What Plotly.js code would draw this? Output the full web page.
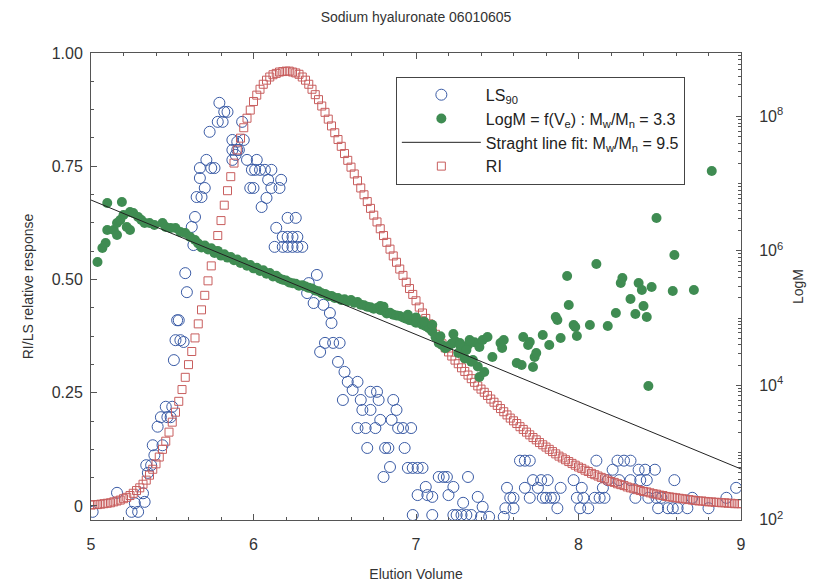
<!DOCTYPE html>
<html>
<head>
<meta charset="utf-8">
<script src="https://cdn.plot.ly/plotly-3.0.1.min.js"></script>
<style>html,body{margin:0;padding:0;background:#fff;}#chart{width:818px;height:584px;}</style>
</head>
<body>
<div id="chart"></div>
<script>
// ---------- data ----------
// LS90 (open blue circles), relative response
const LS_x = [5.01,5.16,5.25,5.29,5.27,5.33,5.32,5.35,5.34,5.37,5.39,5.38,5.44,5.41,5.43,5.46,5.47,5.49,5.50,5.51,
5.52,5.55,5.57,5.53,5.54,5.59,5.58,5.63,5.62,5.64,5.65,5.68,5.70,5.67,5.67,5.71,5.74,5.76,5.73,5.78,
5.81,5.79,5.82,5.84,5.87,5.90,5.93,5.94,5.87,5.89,5.90,5.91,5.87,5.96,6.02,5.99,6.01,6.04,6.07,6.11,
6.09,6.17,6.11,6.16,5.98,6.00,6.08,6.05,6.21,6.26,6.14,6.18,6.21,6.24,6.27,6.13,6.18,6.21,6.24,6.27,6.30,
6.39,6.34,6.33,6.37,6.43,6.47,6.48,6.44,6.49,6.53,6.41,6.52,6.56,6.58,6.64,6.61,6.55,6.66,6.72,6.76,
6.77,6.67,6.72,6.78,6.64,6.69,6.75,6.85,6.86,6.88,6.89,6.92,6.97,6.70,6.81,6.83,6.93,6.84,6.95,6.98,
7.01,7.04,6.80,7.06,7.14,7.17,7.19,7.32,7.01,7.07,7.10,7.20,7.23,7.29,7.38,6.98,7.10,7.23,7.25,7.28,
7.31,7.34,7.45,
7.64,7.67,7.70,8.11,8.24,8.28,8.32,7.72,7.77,7.81,7.97,8.18,8.25,8.32,8.38,8.42,8.21,8.37,8.41,8.47,
8.59,7.56,7.67,7.75,7.89,8.02,8.15,8.97,7.58,7.60,7.70,7.78,7.80,7.83,7.85,7.99,8.03,8.10,8.13,8.16,
8.35,8.43,8.48,8.51,8.70,8.91,7.41,7.55,7.60,7.87,8.01,8.06,8.49,8.55,8.58,8.61,8.67,8.80,7.54,7.40];
const LS_y = [-0.013,0.029,-0.013,-0.013,0.006,0.009,0.028,0.073,0.09,0.09,0.112,0.134,0.134,0.175,0.196,0.219,0.196,0.196,0.219,0.322,
0.366,0.366,0.362,0.41,0.41,0.472,0.514,0.576,0.616,0.638,0.682,0.682,0.702,0.724,0.746,0.764,0.746,0.746,0.826,0.848,
0.848,0.89,0.87,0.87,0.808,0.804,0.848,0.808,0.786,0.775,0.786,0.786,0.764,0.764,0.764,0.742,0.742,0.742,0.742,0.742,
0.72,0.72,0.702,0.702,0.702,0.702,0.68,0.66,0.636,0.636,0.614,0.594,0.594,0.594,0.594,0.572,0.572,0.572,0.572,0.572,0.572,
0.51,0.492,0.47,0.448,0.444,0.426,0.404,0.36,0.36,0.36,0.34,0.318,0.296,0.274,0.274,0.256,0.234,0.234,0.252,0.252,
0.234,0.212,0.212,0.19,0.172,0.172,0.172,0.19,0.234,0.212,0.172,0.172,0.172,0.128,0.128,0.128,0.128,0.086,0.084,0.084,
0.084,0.084,0.064,0.042,0.064,0.064,0.064,0.064,0.024,0.024,0.02,0.024,0.042,0.007,0.02,-0.02,-0.02,-0.02,-0.02,-0.02,
-0.02,-0.02,-0.024,
0.10,0.10,0.10,0.10,0.10,0.10,0.10,0.057,0.057,0.057,0.057,0.057,0.057,0.057,0.057,0.057,0.08,0.08,0.08,0.08,
0.057,0.04,0.04,0.04,0.04,0.04,0.04,0.04,0.018,0.018,0.018,0.018,0.018,0.018,0.018,0.018,0.018,0.018,0.018,0.018,
0.018,0.018,0.018,0.018,0.018,0.018,-0.002,-0.005,-0.005,-0.005,-0.005,-0.005,-0.005,-0.005,-0.005,-0.005,-0.005,-0.005,-0.024,-0.024];

// LogM = f(Ve) (filled green circles), log10 of M
const LOGM_x = [5.04,5.07,5.09,5.10,5.10,5.14,5.16,5.16,5.18,5.19,5.20,5.22,5.24,5.24,5.26,5.29,5.31,5.33,5.36,5.39,
5.44,5.46,5.49,5.52,5.55,5.58,5.61,5.64,
5.66,5.68,5.70,5.72,5.74,5.76,5.78,5.80,5.82,5.84,5.86,5.88,5.90,5.92,5.94,5.96,5.98,6.00,6.02,6.04,
6.06,6.08,6.10,6.12,6.14,6.16,6.18,6.20,6.22,6.24,6.26,6.28,6.30,6.32,6.34,6.36,6.38,6.40,6.42,6.44,
6.46,6.48,6.50,6.52,6.54,6.56,6.58,6.60,6.62,6.64,6.66,6.68,6.70,6.72,6.74,6.76,6.78,6.80,6.82,6.84,
6.86,6.88,6.90,6.92,6.94,6.96,6.98,7.00,7.02,7.04,7.06,7.08,7.10,7.12,7.14,7.16,7.18,7.20,7.22,7.24,
7.26,7.28,7.30,7.32,7.34,7.36,7.38,
6.78,6.80,6.95,7.00,7.05,7.10,7.15,7.27,7.23,7.27,7.31,7.35,7.33,
7.39,7.42,7.39,7.41,7.44,7.47,7.52,7.54,7.53,7.62,7.65,7.66,7.70,7.69,7.72,7.73,7.74,7.78,7.82,7.86,
7.87,7.89,7.94,7.93,7.97,7.98,7.99,8.07,8.11,8.18,8.23,8.26,8.27,8.32,8.35,8.37,8.39,8.40,8.42,8.43,
8.45,8.58,8.59,8.71,8.48,8.82];
const LOGM_y = [5.834,6.043,6.117,6.310,6.712,6.310,6.415,6.236,6.459,6.727,6.534,6.355,6.310,6.578,6.563,6.504,6.459,6.415,6.415,6.385,
6.415,6.355,6.340,6.340,6.281,6.266,6.206,6.162,
6.11,6.05,6.08,6.02,6.04,5.97,6.00,5.93,5.95,5.90,5.91,5.86,5.87,5.82,5.83,5.78,5.79,5.74,5.75,5.70,
5.71,5.66,5.67,5.62,5.63,5.59,5.57,5.56,5.53,5.52,5.51,5.48,5.49,5.47,5.45,5.44,5.41,5.40,5.37,5.36,
5.33,5.33,5.30,5.30,5.27,5.28,5.25,5.27,5.23,5.24,5.20,5.19,5.17,5.16,5.14,5.15,5.12,5.11,5.07,5.08,
5.05,5.04,5.03,5.01,4.99,4.97,4.96,4.93,4.93,4.90,4.88,4.85,4.80,4.72,4.63,4.60,4.55,4.58,4.62,4.66,
4.48,4.52,4.40,4.60,4.35,4.64,4.28,
5.18,5.17,5.05,5.01,4.95,4.90,4.73,4.63,4.762,4.60,4.525,4.376,4.674,
4.123,4.197,4.569,4.674,4.718,4.421,4.629,4.674,4.555,4.331,4.302,4.718,4.644,4.599,4.272,4.421,4.480,4.748,4.599,5.016,
4.971,4.703,5.194,5.626,4.897,4.867,4.733,4.897,5.805,4.882,5.075,5.522,5.596,5.284,5.060,5.522,5.418,5.179,5.016,3.989,
5.462,5.403,5.938,5.418,6.489,7.188];

// Straight line fit (log10 of M at the ends)
const FIT_x = [5, 9];
const FIT_y = [6.757, 2.754];

// RI (open red squares), one value every 0.02 from 5.00 to 9.00
const RI_y = [
0.002,0.003,0.003,0.004,0.005,0.006,0.007,0.009,0.011,0.013,
0.016,0.019,0.023,0.028,0.034,0.040,0.048,0.057,0.068,0.081,
0.093,0.108,0.125,0.143,0.163,0.185,0.207,0.231,0.257,0.284,
0.312,0.341,0.371,0.402,0.433,0.465,0.497,0.530,0.563,0.597,
0.630,0.664,0.696,0.727,0.757,0.786,0.812,0.835,0.856,0.874,
0.893,0.907,0.920,0.931,0.940,0.947,0.952,0.955,0.958,0.959,
0.960,0.960,0.958,0.956,0.953,0.947,0.940,0.931,0.920,0.908,
0.897,0.883,0.869,0.854,0.839,0.824,0.809,0.794,0.778,0.763,
0.748,0.733,0.718,0.702,0.687,0.672,0.657,0.642,0.627,0.612,
0.597,0.582,0.567,0.552,0.538,0.523,0.509,0.494,0.480,0.467,
0.453,0.439,0.426,0.414,0.402,0.390,0.379,0.368,0.358,0.349,
0.340,0.331,0.322,0.314,0.305,0.297,0.289,0.281,0.273,0.265,
0.258,0.251,0.244,0.236,0.229,0.222,0.215,0.208,0.201,0.194,
0.188,0.182,0.175,0.169,0.163,0.157,0.151,0.146,0.140,0.135,
0.130,0.125,0.120,0.115,0.110,0.106,0.102,0.098,0.094,0.090,
0.086,0.083,0.079,0.076,0.072,0.069,0.066,0.063,0.060,0.057,
0.054,0.052,0.049,0.047,0.045,0.042,0.040,0.038,0.036,0.034,
0.032,0.031,0.029,0.027,0.026,0.024,0.023,0.021,0.020,0.019,
0.018,0.017,0.016,0.015,0.014,0.013,0.012,0.011,0.011,0.010,
0.009,0.009,0.008,0.008,0.007,0.007,0.006,0.006,0.005,0.005,
0.005];
const RI_start = 5.0, RI_step = 0.02;

// Tick labels
const Y2_tickvals = [2, 4, 6, 8];
const Y2_ticktext = ['10<sup>2</sup>', '10<sup>4</sup>', '10<sup>6</sup>', '10<sup>8</sup>'];

// ---------- drawing ----------
const FONT = 'Liberation Sans, Arial, Helvetica, sans-serif';
const minorLog = [];
for (let d = 2; d <= 8; d++) for (let k = 1; k <= 9; k++) minorLog.push(d + Math.log10(k));

const traces = [
  {x: LS_x, y: LS_y, type: 'scatter', mode: 'markers', name: 'LS<sub>90</sub>',
   marker: {symbol: 'circle-open', size: 11, color: '#3b5ca6', line: {width: 1}}},
  {x: LOGM_x, y: LOGM_y, yaxis: 'y2', type: 'scatter', mode: 'markers',
   name: 'LogM = f(V<sub>e</sub>) : M<sub>w</sub>/M<sub>n</sub> = 3.3',
   marker: {symbol: 'circle', size: 10, color: '#3f8c52'}},
  {x: FIT_x, y: FIT_y, yaxis: 'y2', type: 'scatter', mode: 'lines',
   name: 'Straght line fit: M<sub>w</sub>/M<sub>n</sub> = 9.5',
   line: {color: '#222', width: 1}},
  {x0: RI_start, dx: RI_step, y: RI_y, type: 'scatter', mode: 'markers', name: 'RI',
   marker: {symbol: 'square-open', size: 8, color: '#c85e5e', line: {width: 1}}}
];

const layout = {
  width: 818, height: 584,
  margin: {l: 91, r: 77, t: 53, b: 64},
  paper_bgcolor: '#ffffff', plot_bgcolor: '#ffffff',
  font: {family: FONT, color: '#333', size: 14},
  showlegend: true,
  title: {text: 'Sodium hyaluronate 06010605', font: {family: FONT, size: 14, color: '#333'},
          x: 0.5, xref: 'paper', y: 0.97, yref: 'container', yanchor: 'middle'},
  xaxis: {range: [5, 9], dtick: 1, tick0: 5, ticks: 'inside', ticklen: 6, tickcolor: '#555',
          showline: true, linecolor: '#555', linewidth: 1, mirror: 'ticks', showgrid: false, zeroline: false,
          minor: {dtick: 0.2, ticks: 'inside', ticklen: 3, tickcolor: '#555', showgrid: false},
          tickfont: {size: 16, color: '#333'}, ticklabelstandoff: 10,
          title: {text: 'Elution Volume', font: {size: 14, color: '#333'}, standoff: 16}},
  yaxis: {range: [-0.031, 1.0], tickvals: [0, 0.25, 0.5, 0.75, 1.0], ticktext: ['0', '0.25', '0.50', '0.75', '1.00'],
          ticks: 'inside', ticklen: 6, tickcolor: '#555',
          showline: true, linecolor: '#555', linewidth: 1, showgrid: false, zeroline: false,
          minor: {dtick: 0.0625, ticks: 'inside', ticklen: 3, tickcolor: '#555', showgrid: false},
          tickfont: {size: 16, color: '#333'}, ticklabelstandoff: 4,
          title: {text: 'RI/LS relative response', font: {size: 14, color: '#333'}, standoff: 14}},
  yaxis2: {overlaying: 'y', side: 'right', range: [1.995, 8.945],
           tickvals: Y2_tickvals, ticktext: Y2_ticktext,
           ticks: 'inside', ticklen: 5, tickcolor: '#555',
           showline: true, linecolor: '#555', linewidth: 1, showgrid: false, zeroline: false,
           minor: {tickvals: minorLog, ticks: 'inside', ticklen: 3, tickcolor: '#555', showgrid: false},
           tickfont: {size: 16, color: '#333'}, ticklabelstandoff: 14,
           title: {text: 'LogM', font: {size: 14, color: '#333'}, standoff: 10}},
  legend: {x: 0.469, y: 0.949, xanchor: 'left', yanchor: 'top', bgcolor: '#ffffff',
           bordercolor: '#444', borderwidth: 1, font: {size: 16, color: '#222'},
           itemwidth: 79, traceorder: 'normal', tracegroupgap: 0}
};

Plotly.newPlot('chart', traces, layout, {displayModeBar: false, staticPlot: true});
</script>
</body>
</html>
